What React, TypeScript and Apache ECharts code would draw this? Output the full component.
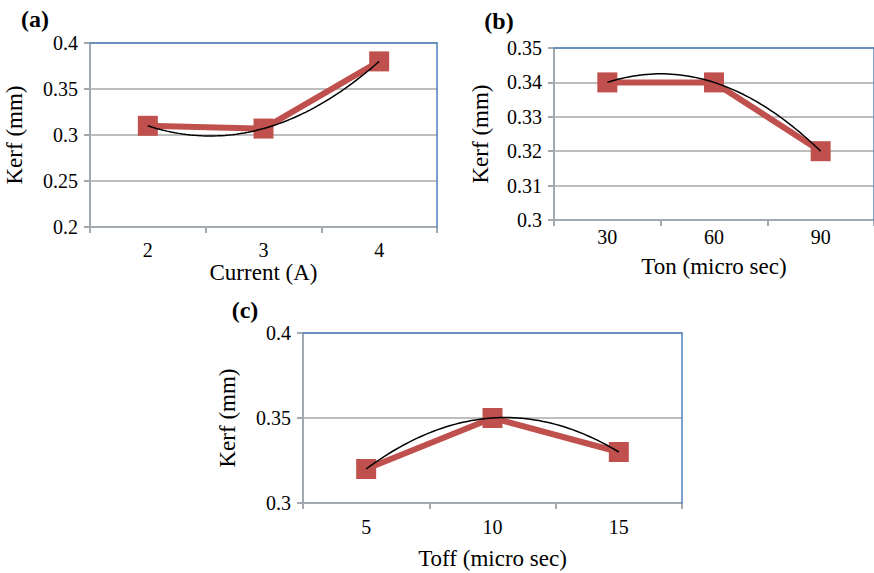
import React, { useEffect, useRef } from "react";
import * as echarts from "echarts";

// ---- data ----
const catsA = ["2", "3", "4"];
const kerfA = [0.31, 0.307, 0.38];
const yRangeA = [0.2, 0.4, 0.05]; // min, max, interval

const catsB = ["30", "60", "90"];
const kerfB = [0.34, 0.34, 0.32];
const yRangeB = [0.3, 0.35, 0.01];

const catsC = ["5", "10", "15"];
const kerfC = [0.32, 0.35, 0.33];
const yRangeC = [0.3, 0.4, 0.05];

const panelLabels = ["(a)", "(b)", "(c)"];
const xNames = ["Current (A)", "Ton (micro sec)", "Toff (micro sec)"];
const yName = "Kerf (mm)";

// ---- styles ----
const FONT = "Liberation Serif";
const RED = "#C0504D";
const BLUE = "#4F81BD";
const AXIS_GRAY = "#A3A9B1";
const GRID_GRAY = "#A8A8A8";

// Least-squares quadratic trend (Excel "polynomial, order 2") of a series
function quadTrend(vals: number[]): [number, number][] {
  const n = vals.length;
  let s0 = 0, s1 = 0, s2 = 0, s3 = 0, s4 = 0, y0 = 0, y1 = 0, y2 = 0;
  for (let i = 0; i < n; i++) {
    const t = i;
    s0 += 1; s1 += t; s2 += t * t; s3 += t * t * t; s4 += t * t * t * t;
    y0 += vals[i]; y1 += vals[i] * t; y2 += vals[i] * t * t;
  }
  const M = [
    [s0, s1, s2, y0],
    [s1, s2, s3, y1],
    [s2, s3, s4, y2],
  ];
  for (let i = 0; i < 3; i++) {
    const p = M[i][i];
    for (let j = i; j < 4; j++) M[i][j] /= p;
    for (let k = 0; k < 3; k++) {
      if (k === i) continue;
      const f = M[k][i];
      for (let j = i; j < 4; j++) M[k][j] -= f * M[i][j];
    }
  }
  const a = M[0][3], b = M[1][3], c = M[2][3];
  const pts: [number, number][] = [];
  const steps = 60;
  for (let s = 0; s <= steps; s++) {
    const t = ((n - 1) * s) / steps;
    pts.push([t + 0.5, a + b * t + c * t * t]);
  }
  return pts;
}

export default function App() {
  const ref = useRef<HTMLDivElement>(null);

  useEffect(() => {
    if (!ref.current) return;
    const chart = echarts.init(ref.current, undefined, { renderer: "svg" });

    const panels = [
      { cats: catsA, vals: kerfA, yr: yRangeA, grid: { left: 90, top: 43, width: 347, height: 184 }, labelMargin: 13, xGap: 34, yGap: 64 },
      { cats: catsB, vals: kerfB, yr: yRangeB, grid: { left: 554, top: 48, width: 322, height: 172 }, labelMargin: 7, xGap: 35, yGap: 62 },
      { cats: catsC, vals: kerfC, yr: yRangeC, grid: { left: 303, top: 333, width: 379, height: 170 }, labelMargin: 14, xGap: 44, yGap: 64 },
    ];

    const grids: any[] = [];
    const xAxes: any[] = [];
    const yAxes: any[] = [];
    const series: any[] = [];

    panels.forEach((p, i) => {
      grids.push({ ...p.grid, containLabel: false });
      xAxes.push({
        type: "category",
        gridIndex: i,
        data: p.cats,
        position: "bottom",
        boundaryGap: true,
        axisLine: { show: true, onZero: false, lineStyle: { color: AXIS_GRAY, width: 2 } },
        axisTick: { show: true, length: 6, lineStyle: { color: AXIS_GRAY, width: 2 } },
        axisLabel: { color: "#000", fontSize: 20, fontFamily: FONT, margin: p.labelMargin },
        splitLine: { show: false },
        name: xNames[i],
        nameLocation: "middle",
        nameGap: p.xGap,
        nameTextStyle: { color: "#000", fontSize: 23, fontFamily: FONT },
      });
      xAxes.push({
        type: "value",
        gridIndex: i,
        position: "top",
        min: 0,
        max: p.cats.length,
        z: 1,
        axisLine: { show: true, onZero: false, lineStyle: { color: BLUE, width: 1.5 } },
        axisTick: { show: false },
        axisLabel: { show: false },
        splitLine: { show: false },
      });
      yAxes.push({
        type: "value",
        gridIndex: i,
        position: "left",
        min: p.yr[0],
        max: p.yr[1],
        interval: p.yr[2],
        axisLine: { show: true, onZero: false, lineStyle: { color: AXIS_GRAY, width: 2 } },
        axisTick: { show: true, length: 6, lineStyle: { color: AXIS_GRAY, width: 2 } },
        axisLabel: { color: "#000", fontSize: 20, fontFamily: FONT, margin: 12 },
        splitLine: { show: true, lineStyle: { color: GRID_GRAY, width: 1.5 } },
        name: yName,
        nameLocation: "middle",
        nameRotate: 90,
        nameGap: p.yGap,
        nameTextStyle: { color: "#000", fontSize: 23, fontFamily: FONT },
      });
      yAxes.push({
        type: "value",
        gridIndex: i,
        position: "right",
        min: p.yr[0],
        max: p.yr[1],
        z: 1,
        axisLine: { show: true, onZero: false, lineStyle: { color: BLUE, width: 1.5 } },
        axisTick: { show: false },
        axisLabel: { show: false },
        splitLine: { show: false },
      });
      series.push({
        type: "line",
        xAxisIndex: 2 * i,
        yAxisIndex: 2 * i,
        data: p.vals,
        symbol: "rect",
        symbolSize: 20,
        lineStyle: { color: RED, width: 6 },
        itemStyle: { color: RED },
        z: 2,
      });
      series.push({
        type: "line",
        xAxisIndex: 2 * i + 1,
        yAxisIndex: 2 * i,
        data: quadTrend(p.vals),
        symbol: "none",
        showSymbol: false,
        lineStyle: { color: "#000", width: 1.5 },
        z: 3,
      });
    });

    const labelPos = [
      [35, 19],
      [499, 21],
      [245, 310],
    ];

    chart.setOption({
      animation: false,
      backgroundColor: "#fff",
      textStyle: { fontFamily: FONT },
      grid: grids,
      xAxis: xAxes,
      yAxis: yAxes,
      series,
      graphic: panelLabels.map((t, i) => ({
        type: "text",
        x: labelPos[i][0],
        y: labelPos[i][1],
        style: {
          text: t,
          fill: "#000",
          fontSize: 24,
          fontWeight: "bold",
          fontFamily: FONT,
          textAlign: "center",
          textVerticalAlign: "middle",
        },
      })),
    });

    return () => chart.dispose();
  }, []);

  return (
    <div
      ref={ref}
      style={{ position: "absolute", left: 0, top: 0, width: 874, height: 573 }}
    />
  );
}
